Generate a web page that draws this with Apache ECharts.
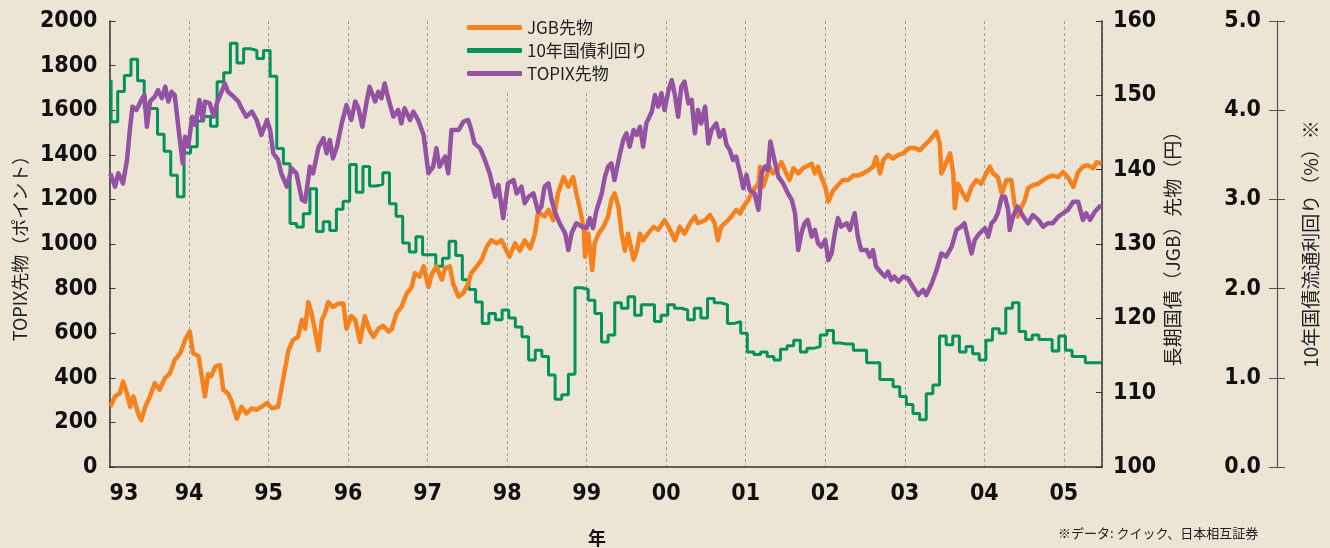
<!DOCTYPE html>
<html>
<head>
<meta charset="utf-8">
<script src="https://cdn.jsdelivr.net/npm/echarts@6/dist/echarts.min.js"></script>
<style>
  html, body { margin: 0; padding: 0; background: #ece5d6; }
  #chart { width: 1330px; height: 548px; }
</style>
</head>
<body>
<div id="chart"></div>
<script>
// 長期国債先物 (円)  [年, 値]
var jgbFutures = [
  [1993.01,108.1],[1993.07,109.5],[1993.13,109.9],[1993.17,111.5],[1993.22,109.9],[1993.26,108.1],[1993.30,109.5],[1993.36,107.2],[1993.40,106.3],[1993.45,108.1],
  [1993.51,109.5],[1993.57,111.3],[1993.63,110.4],[1993.70,112.0],[1993.76,112.6],[1993.82,114.4],[1993.89,115.3],[1993.95,117.1],[1994.01,118.2],[1994.05,115.3],
  [1994.12,114.9],[1994.16,112.2],[1994.20,109.5],[1994.24,112.5],[1994.28,112.2],[1994.33,113.5],[1994.39,113.7],[1994.43,110.4],[1994.49,109.9],[1994.53,109.0],
  [1994.60,106.5],[1994.66,108.1],[1994.72,107.2],[1994.79,107.9],[1994.85,107.7],[1994.91,108.1],[1994.98,108.6],[1995.04,107.9],[1995.12,108.1],[1995.19,112.2],
  [1995.25,115.7],[1995.31,117.1],[1995.37,117.5],[1995.42,119.8],[1995.46,118.6],[1995.50,122.2],[1995.54,120.7],[1995.58,118.6],[1995.63,115.7],[1995.67,119.8],
  [1995.71,120.7],[1995.75,122.2],[1995.81,121.5],[1995.88,122.0],[1995.94,122.0],[1995.98,118.6],[1996.04,120.3],[1996.09,119.8],[1996.15,116.8],[1996.21,120.3],
  [1996.27,118.4],[1996.32,117.5],[1996.38,118.6],[1996.44,119.0],[1996.51,118.2],[1996.55,118.6],[1996.61,120.7],[1996.67,121.5],[1996.74,123.4],[1996.80,124.2],
  [1996.84,126.1],[1996.90,125.6],[1996.95,127.0],[1997.01,124.2],[1997.05,125.9],[1997.11,127.0],[1997.18,125.2],[1997.22,126.8],[1997.28,127.0],[1997.32,124.7],
  [1997.39,122.9],[1997.45,123.4],[1997.51,124.7],[1997.55,126.1],[1997.62,127.0],[1997.68,127.9],[1997.74,129.6],[1997.80,130.5],[1997.87,130.1],[1997.93,130.5],
  [1997.97,129.6],[1998.03,128.3],[1998.10,130.1],[1998.16,129.1],[1998.22,130.5],[1998.29,129.4],[1998.35,131.4],[1998.39,134.3],[1998.47,133.7],[1998.52,134.6],
  [1998.58,133.2],[1998.64,136.8],[1998.71,139.0],[1998.77,137.7],[1998.83,139.0],[1998.87,136.8],[1998.91,135.0],[1998.96,132.3],[1998.98,128.3],[1999.02,131.4],
  [1999.07,126.5],[1999.10,130.1],[1999.15,131.4],[1999.21,132.3],[1999.27,133.7],[1999.31,135.9],[1999.35,136.8],[1999.40,135.0],[1999.44,131.4],[1999.48,129.1],
  [1999.52,131.4],[1999.59,127.9],[1999.63,129.1],[1999.67,131.4],[1999.71,130.5],[1999.77,131.4],[1999.84,132.3],[1999.90,131.9],[1999.98,133.2],[2000.03,132.3],
  [2000.11,130.5],[2000.17,132.3],[2000.23,131.4],[2000.30,132.8],[2000.36,133.7],[2000.40,132.8],[2000.49,133.2],[2000.55,133.9],[2000.61,132.8],[2000.65,130.5],
  [2000.69,132.3],[2000.76,133.0],[2000.82,133.7],[2000.88,134.6],[2000.93,134.1],[2000.97,135.0],[2001.03,135.9],[2001.09,137.2],[2001.16,138.1],[2001.18,140.4],
  [2001.22,137.7],[2001.26,139.0],[2001.30,140.4],[2001.34,139.5],[2001.39,139.9],[2001.45,141.0],[2001.51,139.5],[2001.55,138.6],[2001.60,140.2],[2001.66,139.5],
  [2001.72,140.2],[2001.79,140.6],[2001.83,140.8],[2001.87,139.5],[2001.91,140.4],[2001.95,139.0],[2002.00,137.7],[2002.04,135.7],[2002.10,137.2],[2002.16,137.9],
  [2002.22,138.6],[2002.29,138.6],[2002.35,139.2],[2002.41,139.2],[2002.48,139.5],[2002.54,139.9],[2002.60,140.4],[2002.64,141.7],[2002.69,139.5],[2002.73,141.3],
  [2002.79,142.0],[2002.85,141.5],[2002.92,142.0],[2002.98,142.2],[2003.06,142.9],[2003.13,142.9],[2003.19,142.6],[2003.25,143.3],[2003.31,143.9],[2003.40,145.1],
  [2003.44,143.5],[2003.46,139.5],[2003.50,140.4],[2003.57,142.2],[2003.61,139.5],[2003.63,134.8],[2003.67,138.1],[2003.73,136.8],[2003.78,135.9],[2003.84,137.7],
  [2003.90,138.6],[2003.96,138.1],[2004.01,139.2],[2004.07,140.4],[2004.11,139.5],[2004.17,139.0],[2004.22,136.8],[2004.28,138.6],[2004.34,138.6],[2004.38,135.4],
  [2004.42,133.7],[2004.47,135.0],[2004.51,135.9],[2004.55,137.5],[2004.61,137.9],[2004.68,138.1],[2004.74,138.6],[2004.80,139.0],[2004.86,139.2],[2004.93,139.0],
  [2004.99,139.7],[2005.05,139.0],[2005.12,137.7],[2005.18,139.7],[2005.24,140.4],[2005.30,140.6],[2005.37,140.2],[2005.41,141.0],[2005.47,140.8]
];

// TOPIX先物 (ポイント)  [年, 値]
var topixFutures = [
  [1993.01,1317],[1993.07,1257],[1993.11,1317],[1993.17,1272],[1993.22,1377],[1993.26,1526],[1993.29,1616],[1993.34,1601],[1993.40,1646],[1993.44,1668],
  [1993.47,1526],[1993.51,1639],[1993.57,1661],[1993.61,1690],[1993.66,1654],[1993.70,1705],[1993.74,1639],[1993.78,1683],[1993.82,1668],[1993.87,1511],
  [1993.92,1362],[1993.95,1481],[1993.99,1437],[1994.04,1571],[1994.08,1534],[1994.13,1646],[1994.17,1556],[1994.20,1639],[1994.26,1631],[1994.31,1571],
  [1994.35,1631],[1994.41,1683],[1994.45,1720],[1994.49,1683],[1994.56,1661],[1994.62,1639],[1994.66,1609],[1994.72,1571],[1994.79,1594],[1994.85,1556],
  [1994.91,1489],[1994.98,1556],[1995.02,1511],[1995.06,1407],[1995.12,1377],[1995.16,1317],[1995.23,1257],[1995.29,1339],[1995.35,1317],[1995.42,1198],
  [1995.46,1190],[1995.52,1347],[1995.56,1317],[1995.63,1436],[1995.69,1474],[1995.73,1407],[1995.77,1466],[1995.81,1384],[1995.86,1436],[1995.92,1541],
  [1995.98,1623],[1996.04,1556],[1996.09,1639],[1996.13,1609],[1996.18,1526],[1996.23,1631],[1996.27,1705],[1996.34,1639],[1996.38,1683],[1996.42,1654],
  [1996.46,1720],[1996.51,1646],[1996.57,1571],[1996.63,1601],[1996.67,1541],[1996.71,1609],[1996.78,1556],[1996.82,1594],[1996.88,1556],[1996.95,1489],
  [1997.01,1317],[1997.07,1347],[1997.11,1429],[1997.15,1347],[1997.22,1392],[1997.26,1317],[1997.30,1511],[1997.39,1511],[1997.45,1549],[1997.51,1556],
  [1997.55,1511],[1997.59,1451],[1997.66,1429],[1997.72,1377],[1997.78,1317],[1997.85,1212],[1997.89,1265],[1997.95,1116],[1998.01,1272],[1998.08,1287],
  [1998.12,1227],[1998.18,1257],[1998.22,1183],[1998.27,1212],[1998.33,1227],[1998.39,1145],[1998.43,1168],[1998.47,1257],[1998.52,1272],[1998.56,1197],
  [1998.60,1145],[1998.66,1093],[1998.73,1048],[1998.77,973],[1998.81,1048],[1998.87,1093],[1998.94,1078],[1999.00,1071],[1999.04,1116],[1999.08,1071],
  [1999.12,1145],[1999.19,1227],[1999.23,1302],[1999.27,1347],[1999.31,1362],[1999.35,1287],[1999.42,1407],[1999.46,1466],[1999.50,1496],[1999.54,1436],
  [1999.59,1511],[1999.63,1489],[1999.67,1526],[1999.71,1436],[1999.75,1541],[1999.82,1594],[1999.86,1668],[1999.90,1616],[1999.94,1676],[1999.98,1601],
  [2000.03,1690],[2000.07,1735],[2000.11,1668],[2000.15,1571],[2000.19,1705],[2000.23,1728],[2000.28,1631],[2000.32,1646],[2000.36,1496],[2000.40,1601],
  [2000.44,1541],[2000.49,1616],[2000.53,1451],[2000.57,1511],[2000.63,1541],[2000.67,1481],[2000.72,1511],[2000.76,1444],[2000.80,1421],[2000.84,1377],
  [2000.88,1392],[2000.93,1317],[2000.97,1250],[2001.01,1310],[2001.05,1242],[2001.11,1227],[2001.16,1153],[2001.20,1317],[2001.24,1347],[2001.28,1332],
  [2001.31,1460],[2001.37,1362],[2001.41,1302],[2001.47,1272],[2001.53,1227],[2001.58,1197],[2001.62,1138],[2001.66,973],[2001.70,1048],[2001.74,1093],
  [2001.78,1108],[2001.83,1033],[2001.87,1063],[2001.91,1003],[2001.95,988],[2002.00,1018],[2002.04,928],[2002.08,958],[2002.12,1048],[2002.16,1116],
  [2002.20,1078],[2002.27,1093],[2002.31,1063],[2002.37,1138],[2002.41,1033],[2002.45,973],[2002.52,973],[2002.56,943],[2002.60,973],[2002.64,898],
  [2002.71,869],[2002.75,854],[2002.79,876],[2002.83,839],[2002.87,854],[2002.92,831],[2002.98,854],[2003.04,846],[2003.10,809],[2003.17,771],
  [2003.23,794],[2003.27,771],[2003.34,824],[2003.40,883],[2003.46,958],[2003.52,943],[2003.59,988],[2003.65,1063],[2003.71,1078],[2003.75,1093],
  [2003.80,1018],[2003.84,958],[2003.88,1018],[2003.94,1048],[2004.01,1071],[2004.05,1033],[2004.09,1093],[2004.13,1108],[2004.17,1138],[2004.22,1212],
  [2004.26,1212],[2004.30,1153],[2004.32,1063],[2004.36,1123],[2004.42,1168],[2004.49,1123],[2004.55,1093],[2004.61,1130],[2004.68,1108],[2004.74,1078],
  [2004.80,1093],[2004.86,1093],[2004.93,1123],[2004.99,1138],[2005.05,1153],[2005.12,1190],[2005.18,1190],[2005.24,1108],[2005.28,1138],[2005.33,1108],
  [2005.39,1145],[2005.45,1168],[2005.47,1170]
];

// 10年国債利回り (%) 月次、1993年1月から
var yieldStartYear = 1993;
var yield10y = [
  4.34, 3.87, 4.21, 4.39, 4.57, 4.33, 4.02, 4.02, 3.73, 3.54, 3.27, 3.03,
  3.52, 3.59, 3.88, 3.93, 3.82, 4.32, 4.42, 4.75, 4.53, 4.69, 4.67, 4.58,
  4.67, 4.38, 3.57, 3.40, 2.73, 2.69, 2.84, 3.12, 2.64, 2.75, 2.65, 2.89,
  2.98, 3.39, 3.08, 3.37, 3.15, 3.17, 3.30, 2.95, 2.81, 2.51, 2.41, 2.58,
  2.38, 2.38, 2.25, 2.34, 2.53, 2.37, 2.10, 1.99, 1.85, 1.61, 1.72, 1.65,
  1.76, 1.67, 1.57, 1.46, 1.20, 1.31, 1.24, 1.03, 0.76, 0.81, 1.04, 2.01,
  1.99, 1.87, 1.72, 1.40, 1.48, 1.84, 1.78, 1.91, 1.70, 1.82, 1.82, 1.63,
  1.70, 1.82, 1.78, 1.76, 1.65, 1.78, 1.67, 1.89, 1.84, 1.82, 1.61, 1.63,
  1.50, 1.29, 1.26, 1.29, 1.24, 1.20, 1.32, 1.36, 1.42, 1.29, 1.33, 1.35,
  1.48, 1.53, 1.39, 1.38, 1.38, 1.31, 1.31, 1.17, 1.17, 0.98, 0.98, 0.90,
  0.79, 0.70, 0.60, 0.53, 0.82, 0.92, 1.47, 1.37, 1.47, 1.29, 1.35, 1.27,
  1.20, 1.42, 1.55, 1.50, 1.78, 1.84, 1.52, 1.43, 1.48, 1.43, 1.43, 1.30,
  1.47, 1.31, 1.24, 1.24, 1.17, 1.17
];
var lastDate = 2005.48;

var topixTicks = [0, 2000, 200];
var jgbTicks = [100, 160, 10];
var yieldTicks = [0, 5, 1];

var bg = '#ece5d6';
var numFont = "'DejaVu Sans', sans-serif";
var jpFont = "'Noto Sans CJK JP', 'Noto Sans', sans-serif";

// 月次データを [年, 値] に変換
var yieldData = yield10y.map(function (v, i) {
  return [yieldStartYear + i / 12 + 0.02, v];
});
yieldData.push([lastDate, yield10y[yield10y.length - 1]]);

var myChart = echarts.init(document.getElementById('chart'));

// 数字は太字の細長い書体 (condensed)
var numLabel = {
  fontFamily: numFont,
  fontStyle: 'condensed',
  fontWeight: 'bold',
  fontSize: 23,
  color: '#111'
};

var option = {
  backgroundColor: bg,
  animation: false,
  grid: { left: 109.5, right: 228, top: 21, bottom: 81, outerBoundsMode: 'none' },
  legend: {
    orient: 'vertical',
    left: 462,
    top: 13,
    padding: [6, 2, 11, 5],
    backgroundColor: bg,
    itemWidth: 55,
    itemHeight: 5,
    itemGap: 6,
    icon: 'roundRect',
    data: ['JGB先物', '10年国債利回り', 'TOPIX先物'],
    textStyle: { fontFamily: jpFont, fontSize: 17, color: '#222' }
  },
  xAxis: {
    type: 'value',
    min: 1993,
    max: lastDate,
    interval: 1,
    axisLine: { lineStyle: { color: '#333', width: 1.5 } },
    axisTick: { show: false },
    splitLine: { show: true, lineStyle: { color: '#9a9aa2', type: [3, 3], width: 1 } },
    axisLabel: Object.assign({
      margin: 16,
      alignMinLabel: 'left',
      formatter: function (v) {
        if (Math.abs(v - Math.round(v)) > 0.001) return '';
        var y = Math.round(v) % 100;
        return (y < 10 ? '0' : '') + y;
      }
    }, numLabel)
  },
  yAxis: [
    {
      type: 'value', position: 'left',
      min: topixTicks[0], max: topixTicks[1], interval: topixTicks[2],
      name: 'TOPIX先物（ポイント）', nameLocation: 'middle', nameGap: 80, nameRotate: 90,
      nameMoveOverlap: false,
      nameTextStyle: { fontFamily: jpFont, fontSize: 18, color: '#222' },
      axisLine: { show: true, lineStyle: { color: '#333', width: 1.5 } },
      axisTick: { show: true, inside: true, length: 6, lineStyle: { color: '#333' } },
      splitLine: { show: false },
      axisLabel: Object.assign({
        margin: 12,
        formatter: function (v) { return String(v); }
      }, numLabel)
    },
    {
      type: 'value', position: 'right',
      min: jgbTicks[0], max: jgbTicks[1], interval: jgbTicks[2],
      name: '長期国債（JGB）先物（円）', nameLocation: 'middle', nameGap: 61, nameRotate: 90,
      nameMoveOverlap: false,
      nameTextStyle: { fontFamily: jpFont, fontSize: 19, color: '#222' },
      axisLine: { show: true, lineStyle: { color: '#333', width: 1.5 } },
      axisTick: { show: true, inside: true, length: 6, lineStyle: { color: '#333' } },
      splitLine: { show: false },
      axisLabel: Object.assign({
        margin: 11,
        formatter: function (v) { return String(v); }
      }, numLabel)
    },
    {
      type: 'value', position: 'right', offset: 175,
      min: yieldTicks[0], max: yieldTicks[1], interval: yieldTicks[2],
      name: '10年国債流通利回り（%）※', nameLocation: 'middle', nameGap: 24, nameRotate: 90,
      nameMoveOverlap: false,
      nameTextStyle: { fontFamily: jpFont, fontSize: 19, color: '#222' },
      axisLine: { show: true, lineStyle: { color: '#555', width: 1.2 } },
      axisTick: { show: true, inside: true, length: 8, lineStyle: { color: '#555' } },
      splitLine: { show: false },
      axisLabel: Object.assign({
        inside: true, margin: 16,
        formatter: function (v) { return v.toFixed(1); }
      }, numLabel)
    },
    {
      // 利回り軸の外側の目盛り
      type: 'value', position: 'right', offset: 175,
      min: yieldTicks[0], max: yieldTicks[1], interval: yieldTicks[2],
      axisLine: { show: false },
      axisTick: { show: true, inside: false, length: 8, lineStyle: { color: '#555' } },
      splitLine: { show: false },
      axisLabel: { show: false }
    }
  ],
  graphic: [
    {
      type: 'text', left: 588, top: 529,
      style: { text: '年', fontFamily: jpFont, fontSize: 18, fontWeight: 'bold', fill: '#111' }
    },
    {
      type: 'text', left: 1058, top: 527,
      style: { text: '※データ: クイック、日本相互証券', fontFamily: jpFont, fontSize: 13, fill: '#222' }
    }
  ],
  series: [
    {
      name: '10年国債利回り', type: 'line', yAxisIndex: 2, step: 'start',
      showSymbol: false, data: yieldData,
      itemStyle: { color: '#00925a' },
      lineStyle: { color: '#00925a', width: 3 }
    },
    {
      name: 'JGB先物', type: 'line', yAxisIndex: 1,
      showSymbol: false, data: jgbFutures,
      itemStyle: { color: '#f5821f' },
      lineStyle: { color: '#f5821f', width: 4.5, join: 'round' }
    },
    {
      name: 'TOPIX先物', type: 'line', yAxisIndex: 0,
      showSymbol: false, data: topixFutures,
      itemStyle: { color: '#9452a2' },
      lineStyle: { color: '#9452a2', width: 4.5, join: 'round' }
    }
  ]
};

myChart.setOption(option);
</script>
</body>
</html>
